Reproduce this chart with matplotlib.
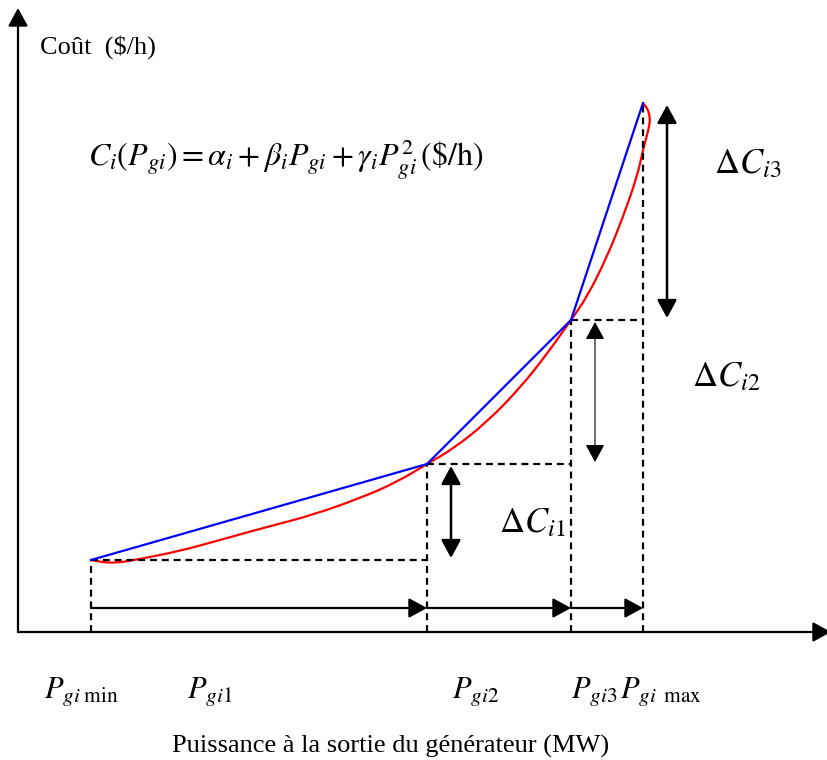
import numpy as np
import matplotlib
matplotlib.use('Agg')
from matplotlib import pyplot
from matplotlib.path import Path
from matplotlib.patches import PathPatch

pyplot.rcParams['mathtext.fontset'] = 'stix'
pyplot.rcParams['font.family'] = ['Liberation Serif', 'DejaVu Serif']
pyplot.rcParams['lines.scale_dashes'] = False

# breakpoints of the piecewise linear approximation (arbitrary units)
p_break = [73, 409, 553, 625]          # P_gi min, P_gi2, P_gi3, P_gi max
c_break = [72, 168, 312, 529]          # cost at each breakpoint

# quadratic cost curve
p_curve = [73, 82, 99, 122, 162, 202, 245, 295, 345, 379, 409, 435, 469, 502, 529,
           553, 569, 589, 605, 619, 625, 629, 631, 632, 631, 629, 625]
c_curve = [72, 70, 69, 73, 81, 92, 104, 117, 135, 150, 168, 183, 210, 244, 278,
           312, 335, 375, 415, 455, 482, 497, 505, 512, 519, 524, 529]

p_labels = [r'$P_{gi\;\mathrm{min}}$', r'$P_{gi1}$', r'$P_{gi2}$', r'$P_{gi3}$', r'$P_{gi\;\;\mathrm{max}}$']
p_label_x = [26, 169, 434, 553, 602]
dc_labels = [r'$\Delta C_{i1}$', r'$\Delta C_{i2}$', r'$\Delta C_{i3}$']
dc_arrow_x = [433, 577, 649]
dc_label_pos = [(481, 108), (674, 254), (696, 467)]

x_end, y_end = 809, 624
arrow_y = 24

fig = pyplot.figure(figsize=(8.27, 7.60), dpi=100)
ax = fig.add_axes([0, 0, 1, 1])
ax.set_xlim(-18, 809)
ax.set_ylim(-128, 632)
ax.axis('off')

head = '-|>,head_length=0.55,head_width=0.3'
dhead = '<|-|>,head_length=0.55,head_width=0.3'

# axes with arrows
ax.annotate('', xy=(0, y_end), xytext=(0, 0), annotation_clip=False,
            arrowprops=dict(arrowstyle=head, color='k', lw=1.6, shrinkA=0, shrinkB=0, mutation_scale=20))
ax.annotate('', xy=(x_end + 4, 0), xytext=(0, 0), annotation_clip=False,
            arrowprops=dict(arrowstyle=head, color='k', lw=1.6, shrinkA=0, shrinkB=0, mutation_scale=20))

# dashed guides
ds = dict(color='k', lw=1.6, ls=(0, (5, 3.5)))
for i in range(len(p_break)):
    ax.plot([p_break[i], p_break[i]], [0, c_break[i]], **ds)
for i in range(len(p_break) - 1):
    ax.plot([p_break[i], p_break[i + 1]], [c_break[i], c_break[i]], **ds)

# smooth red curve: read points used as quadratic Bezier controls
pts = np.column_stack([p_curve, c_curve]).astype(float)
verts = [pts[0]]
codes = [Path.MOVETO]
for i in range(1, len(pts) - 1):
    verts += [pts[i], (pts[i] + pts[i + 1]) / 2]
    codes += [Path.CURVE3, Path.CURVE3]
verts.append(pts[-1])
codes.append(Path.LINETO)
ax.add_patch(PathPatch(Path(verts, codes), fill=False, edgecolor='red', lw=1.6))
ax.plot(p_break, c_break, color='blue', lw=1.6)

# horizontal segment arrows
for i in range(len(p_break) - 1):
    ax.annotate('', xy=(p_break[i + 1], arrow_y), xytext=(p_break[i], arrow_y),
                arrowprops=dict(arrowstyle=head, color='k', lw=1.6, shrinkA=0, shrinkB=0, mutation_scale=20))

# vertical delta-C arrows
for i in range(3):
    lw = 0.8 if i == 1 else 1.8
    ax.annotate('', xy=(dc_arrow_x[i], c_break[i + 1] - 2), xytext=(dc_arrow_x[i], c_break[i] + 2),
                arrowprops=dict(arrowstyle=dhead, color='k', lw=lw, shrinkA=0, shrinkB=0, mutation_scale=20))
    ax.text(dc_label_pos[i][0], dc_label_pos[i][1], dc_labels[i], fontsize=25, ha='left', va='center')

# texts
ax.text(22, 585, 'Coût  ($/h)', fontsize=19, ha='left', va='center')
ax.text(70, 472, r'$C_i\left(P_{gi}\right) = \alpha_i + \beta_i P_{gi} + \gamma_i P_{gi}^2\,\left(\mathrm{\$/h}\right)$',
        fontsize=23, ha='left', va='center')
for lab, x in zip(p_labels, p_label_x):
    ax.text(x, -60, lab, fontsize=22, ha='left', va='center')
ax.text(373, -114, 'Puissance à la sortie du générateur (MW)', fontsize=19, ha='center', va='center')

pyplot.savefig('out.png', dpi=100)
